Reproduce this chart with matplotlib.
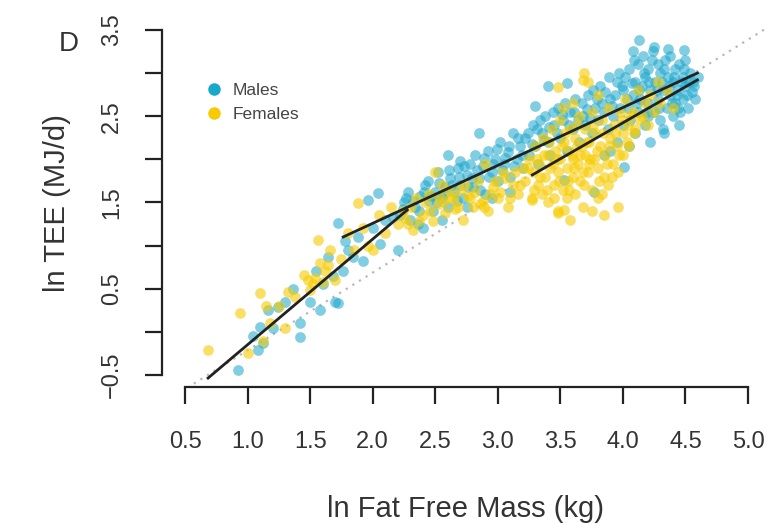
import matplotlib
matplotlib.use('Agg')
import matplotlib.pyplot as plt
from matplotlib.lines import Line2D

plt.rcParams['font.family'] = ['Liberation Sans', 'DejaVu Sans']

# ln fat free mass (kg) vs ln TEE (MJ/d), males
males = [
    (0.92, -0.44), (1.08, -0.21), (1.12, -0.13), (1.10, 0.06), (1.16, 0.25), (1.24, 0.29),
    (1.42, -0.06), (1.42, 0.10), (1.50, 0.35), (1.58, 0.25), (1.64, 0.87), (1.70, 0.35),
    (1.72, 1.26), (1.72, 0.33), (1.76, 0.70), (1.80, 0.95), (1.84, 0.87), (1.88, 1.10),
    (1.92, 0.82), (1.96, 1.53), (2.00, 1.20), (2.04, 1.61), (2.06, 1.02), (2.10, 1.30),
    (2.16, 1.33), (2.20, 0.95), (1.30, 0.35), (1.36, 0.50), (1.55, 0.70), (1.60, 0.55),
    (1.68, 0.65), (1.78, 1.05), (1.20, 0.05), (1.04, -0.05),
    (2.22, 1.35), (2.25, 1.50), (2.28, 1.62), (2.30, 1.30), (2.34, 1.45), (2.38, 1.58),
    (2.40, 1.20), (2.42, 1.70), (2.45, 1.52), (2.48, 1.40), (2.50, 1.62), (2.52, 1.85),
    (2.55, 1.55), (2.58, 1.68), (2.60, 1.45), (2.62, 1.78), (2.65, 1.62), (2.68, 1.90),
    (2.70, 1.70), (2.72, 1.55), (2.75, 1.82), (2.78, 1.95), (2.80, 1.68), (2.82, 2.05),
    (2.85, 1.78), (2.88, 1.92), (2.90, 1.60), (2.92, 2.10), (2.95, 1.85), (2.98, 2.00),
    (3.00, 1.75), (3.02, 2.20), (3.05, 1.95), (3.08, 2.08), (3.10, 1.80), (3.12, 2.30),
    (3.15, 2.00), (3.18, 2.15), (3.20, 1.90), (2.36, 1.25), (2.55, 1.30), (2.75, 1.45),
    (2.95, 1.55), (3.10, 1.62), (2.60, 2.05), (2.85, 2.30), (2.70, 1.98),
    (2.24, 1.42), (2.27, 1.55), (2.32, 1.52), (2.37, 1.40), (2.41, 1.62), (2.44, 1.75),
    (2.47, 1.58), (2.51, 1.50), (2.53, 1.72), (2.57, 1.60), (2.61, 1.88), (2.63, 1.70),
    (2.67, 1.52), (2.69, 1.80), (2.73, 1.92), (2.76, 1.68), (2.79, 1.78), (2.83, 1.88),
    (2.86, 1.65), (2.89, 2.02), (2.93, 1.80), (2.96, 1.95), (2.99, 2.12), (3.03, 1.88),
    (3.06, 2.02), (3.09, 2.15), (3.13, 1.92), (3.16, 2.25), (3.19, 2.05),
    (3.22, 2.25), (3.25, 2.05), (3.28, 2.40), (3.30, 2.15), (3.32, 1.95), (3.35, 2.30),
    (3.38, 2.50), (3.40, 2.20), (3.42, 2.05), (3.45, 2.40), (3.48, 2.60), (3.50, 2.25),
    (3.52, 2.45), (3.55, 2.10), (3.58, 2.55), (3.60, 2.35), (3.62, 2.70), (3.65, 2.20),
    (3.68, 2.50), (3.70, 2.40), (3.72, 2.75), (3.75, 2.30), (3.78, 2.60), (3.80, 2.45),
    (3.82, 2.85), (3.85, 2.55), (3.88, 2.35), (3.90, 2.70), (3.92, 2.50), (3.95, 2.90),
    (3.98, 2.60), (4.00, 2.40), (3.40, 2.85), (3.55, 2.88), (3.30, 2.62), (3.53, 1.76),
    (3.77, 1.62), (3.90, 2.10), (3.95, 2.20), (3.85, 2.05),
    (3.24, 2.30), (3.27, 2.18), (3.31, 2.35), (3.34, 2.45), (3.37, 2.22), (3.41, 2.38),
    (3.44, 2.55), (3.47, 2.30), (3.51, 2.52), (3.54, 2.65), (3.57, 2.40), (3.61, 2.55),
    (3.64, 2.45), (3.67, 2.65), (3.71, 2.58), (3.74, 2.48), (3.76, 2.80), (3.79, 2.70),
    (3.83, 2.65), (3.86, 2.78), (3.89, 2.95), (3.91, 2.62), (3.94, 2.75), (3.97, 3.00),
    (3.99, 2.85),
    (4.00, 2.80), (4.02, 2.95), (4.04, 2.60), (4.05, 3.05), (4.06, 2.45), (4.08, 2.75),
    (4.10, 2.90), (4.10, 2.30), (4.12, 3.10), (4.12, 2.55), (4.14, 2.70), (4.15, 2.85),
    (4.16, 3.20), (4.18, 2.40), (4.18, 2.95), (4.20, 2.65), (4.20, 3.05), (4.22, 2.80),
    (4.22, 2.20), (4.24, 3.25), (4.25, 2.55), (4.26, 2.90), (4.28, 2.70), (4.28, 3.10),
    (4.30, 2.45), (4.30, 3.00), (4.32, 2.80), (4.32, 2.35), (4.34, 3.15), (4.35, 2.60),
    (4.36, 2.95), (4.38, 2.75), (4.38, 3.20), (4.40, 2.50), (4.40, 2.90), (4.42, 3.05),
    (4.42, 2.65), (4.44, 2.80), (4.45, 3.10), (4.46, 2.55), (4.48, 2.95), (4.48, 2.70),
    (4.50, 3.15), (4.50, 2.85), (4.52, 2.60), (4.54, 3.00), (4.55, 2.78), (4.56, 2.90),
    (4.58, 2.70), (4.60, 2.95), (4.13, 3.38), (4.49, 3.27), (4.05, 2.15), (4.01, 1.91),
    (4.33, 2.30), (4.45, 2.40),
    (4.03, 2.70), (4.07, 2.88), (4.09, 3.15), (4.11, 2.65), (4.13, 2.80), (4.17, 3.00),
    (4.19, 2.55), (4.21, 2.90), (4.23, 3.15), (4.27, 2.80), (4.29, 2.60), (4.31, 2.90),
    (4.33, 3.05), (4.37, 2.85), (4.39, 2.65), (4.41, 2.95), (4.43, 2.75), (4.47, 2.90),
    (4.49, 3.05), (4.51, 2.75), (4.53, 2.90), (4.57, 2.85), (4.25, 3.30), (4.36, 3.28),
    (4.08, 3.25), (4.20, 2.50), (4.44, 2.60),
]

# females
females = [
    (0.68, -0.21), (0.94, 0.22), (1.10, 0.45), (1.12, -0.10), (1.18, 0.10), (1.25, 0.30),
    (1.32, 0.46), (1.38, 0.40), (1.45, 0.66), (1.48, 0.60), (1.52, 0.55), (1.56, 1.06),
    (1.58, 0.80), (1.62, 0.70), (1.66, 0.95), (1.70, 0.60), (1.75, 0.85), (1.80, 1.15),
    (1.85, 0.95), (1.88, 1.49), (1.92, 1.20), (1.96, 1.00), (2.00, 0.95), (2.05, 1.35),
    (2.10, 1.15), (2.15, 1.45), (2.20, 1.25), (1.00, -0.25), (1.30, 0.05), (1.15, 0.30),
    (1.50, 0.48), (1.54, 0.62), (1.60, 0.58), (1.64, 0.78),
    (2.24, 1.40), (2.28, 1.25), (2.32, 1.18), (2.35, 1.55), (2.40, 1.35), (2.45, 1.60),
    (2.48, 1.28), (2.52, 1.48), (2.55, 1.70), (2.58, 1.38), (2.62, 1.55), (2.66, 1.42),
    (2.70, 1.65), (2.72, 1.30), (2.76, 1.58), (2.80, 1.45), (2.84, 1.75), (2.88, 1.52),
    (2.92, 1.40), (2.96, 1.68), (3.00, 1.55), (3.04, 1.85), (3.08, 1.45), (3.12, 1.70),
    (3.16, 1.60), (3.20, 1.90), (2.50, 1.85), (2.90, 1.95), (2.89, 1.45),
    (2.26, 1.32), (2.31, 1.45), (2.37, 1.28), (2.42, 1.50), (2.46, 1.40), (2.53, 1.58),
    (2.57, 1.50), (2.61, 1.65), (2.65, 1.55), (2.68, 1.45), (2.74, 1.70), (2.78, 1.55),
    (2.82, 1.62), (2.86, 1.48), (2.94, 1.60), (2.98, 1.75), (3.02, 1.62), (3.06, 1.78),
    (3.10, 1.55), (3.14, 1.85), (3.18, 1.70),
    (3.22, 1.75), (3.25, 2.00), (3.27, 1.55), (3.28, 1.85), (3.30, 2.15), (3.32, 1.70),
    (3.33, 1.95), (3.35, 1.60), (3.36, 2.25), (3.38, 1.80), (3.40, 2.05), (3.40, 1.50),
    (3.42, 1.90), (3.43, 2.35), (3.45, 1.70), (3.46, 2.10), (3.48, 1.85), (3.48, 1.40),
    (3.50, 2.00), (3.50, 2.45), (3.52, 1.65), (3.53, 2.20), (3.55, 1.90), (3.55, 1.55),
    (3.57, 2.10), (3.58, 2.35), (3.60, 1.80), (3.60, 2.00), (3.62, 1.60), (3.62, 2.25),
    (3.64, 1.95), (3.65, 2.50), (3.66, 1.75), (3.67, 2.15), (3.68, 1.45), (3.70, 2.05),
    (3.70, 2.35), (3.72, 1.85), (3.73, 2.20), (3.75, 1.65), (3.75, 2.55), (3.77, 2.00),
    (3.78, 2.30), (3.80, 1.90), (3.80, 1.55), (3.82, 2.15), (3.83, 2.45), (3.85, 1.80),
    (3.86, 2.05), (3.88, 2.60), (3.88, 1.70), (3.90, 2.25), (3.92, 1.95), (3.93, 2.40),
    (3.95, 2.15), (3.96, 1.85), (3.98, 2.55), (4.00, 2.30), (4.00, 2.05), (4.02, 2.70),
    (4.04, 2.40), (4.05, 2.15), (4.08, 2.55), (4.10, 2.35), (4.12, 2.80), (4.15, 2.50),
    (4.18, 2.65), (4.20, 2.40), (4.22, 2.75), (4.25, 2.55), (4.28, 2.90), (4.30, 2.65),
    (4.35, 2.80), (4.40, 2.60), (3.48, 2.84), (3.69, 3.00), (3.72, 2.90), (3.27, 1.53),
    (3.48, 1.38), (3.58, 1.30), (3.53, 1.41), (3.96, 1.45), (3.85, 1.35), (3.75, 1.40),
    (3.45, 1.55), (3.52, 2.60), (3.60, 2.65), (3.80, 2.75), (3.68, 2.92),
    (3.24, 1.90), (3.29, 1.65), (3.31, 2.00), (3.34, 1.80), (3.37, 2.05), (3.39, 1.65),
    (3.41, 2.20), (3.44, 1.95), (3.47, 2.00), (3.49, 1.75), (3.51, 2.15), (3.54, 2.30),
    (3.56, 1.75), (3.59, 2.05), (3.61, 1.90), (3.63, 2.40), (3.66, 2.05), (3.68, 1.85),
    (3.71, 2.20), (3.74, 2.00), (3.76, 2.40), (3.79, 2.10), (3.81, 1.75), (3.84, 2.30),
    (3.87, 1.95), (3.89, 2.15), (3.91, 1.80), (3.94, 2.30), (3.97, 2.05), (3.99, 2.45),
    (4.03, 2.20), (4.06, 2.50), (4.09, 2.30), (4.14, 2.45), (3.57, 1.65), (3.69, 1.70),
    (3.83, 1.60), (3.63, 2.15), (3.73, 1.95),
]

# fitted segments (x0, y0, x1, y1)
fit_lines = [
    (0.684, -0.535, 2.276, 1.413),
    (1.764, 1.100, 4.596, 3.000),
    (3.276, 1.819, 4.596, 2.920),
]
ref_slope = 0.9
ref_intercept = -1.113

x_ticks = [0.5, 1.0, 1.5, 2.0, 2.5, 3.0, 3.5, 4.0, 4.5, 5.0]
y_ticks = [-0.5, 0.0, 0.5, 1.0, 1.5, 2.0, 2.5, 3.0, 3.5]
y_labels = ['\u22120.5', '', '0.5', '', '1.5', '', '2.5', '', '3.5']

male_col = '#1aa7cc'
female_col = '#f7cb00'
txt = '#333333'

fig = plt.figure(figsize=(7.68, 5.23), dpi=100)
ax = fig.add_axes([0.211, 0.260, 0.789, 0.702])

ax.scatter([p[0] for p in males], [p[1] for p in males], s=60, color=male_col,
           alpha=0.55, linewidths=0, zorder=2)
ax.scatter([p[0] for p in females], [p[1] for p in females], s=60, color=female_col,
           alpha=0.6, linewidths=0, zorder=3)

# reference line
xs = [0.2, 5.3]
ax.plot(xs, [ref_slope * x + ref_intercept for x in xs], color='#b8b8b8',
        ls=(0, (1, 2.5)), lw=1.6, zorder=1)

for x0, y0, x1, y1 in fit_lines:
    ax.plot([x0, x1], [y0, y1], color='#222222', lw=2, zorder=4)

ax.set_xlim(0.316, 5.16)
ax.set_ylim(-0.639, 3.616)

for s in ['top', 'right']:
    ax.spines[s].set_visible(False)
ax.spines['left'].set_bounds(-0.5, 3.5)
ax.spines['bottom'].set_bounds(0.5, 5.0)
for s in ['left', 'bottom']:
    ax.spines[s].set_linewidth(1.6)
    ax.spines[s].set_color('#222222')

ax.set_xticks(x_ticks)
ax.set_xticklabels(['%.1f' % v for v in x_ticks])
ax.set_yticks(y_ticks)
ax.set_yticklabels(y_labels, rotation=90, va='center')
ax.tick_params(axis='both', length=12, width=1.6, color='#222222',
               labelsize=17, labelcolor=txt)
ax.tick_params(axis='x', pad=20)
ax.tick_params(axis='y', pad=16)

ax.set_xlabel('ln Fat Free Mass (kg)', fontsize=21, color=txt, labelpad=30)
ax.set_ylabel('ln TEE (MJ/d)', fontsize=21, color=txt, labelpad=22)

handles = [
    Line2D([], [], ls='none', marker='o', ms=9, mfc=male_col, mec='none', label='Males'),
    Line2D([], [], ls='none', marker='o', ms=9, mfc=female_col, mec='none', label='Females'),
]
ax.legend(handles=handles, loc='upper left', bbox_to_anchor=(0.045, 0.848), frameon=False,
          fontsize=12.5, labelcolor='#444444', handletextpad=0.1, labelspacing=0.55,
          borderaxespad=0)

fig.text(0.089, 0.915, 'D', fontsize=20, color=txt, ha='center', va='center')

fig.savefig('out.png', dpi=100)
